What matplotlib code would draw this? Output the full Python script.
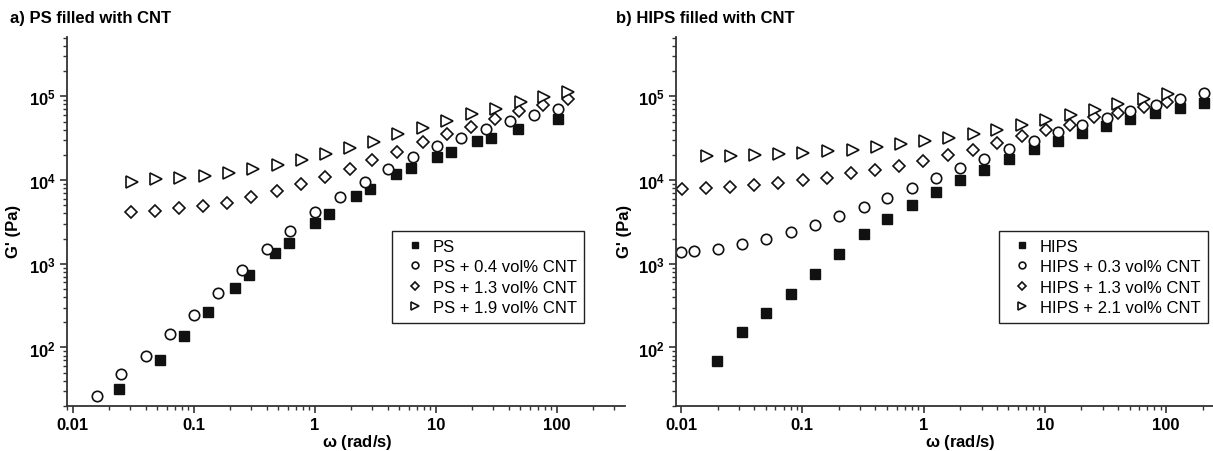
import matplotlib
matplotlib.use("Agg")
import matplotlib.pyplot as plt
from matplotlib.ticker import LogLocator, FuncFormatter, NullFormatter

plt.rcParams['font.family'] = ['Liberation Sans', 'DejaVu Sans']
plt.rcParams['mathtext.fontset'] = 'custom'
plt.rcParams['mathtext.rm'] = 'Liberation Sans'
plt.rcParams['mathtext.bf'] = 'Liberation Sans:bold'

# ---- panel a: PS ----
ps_w = [0.0241, 0.0527, 0.083, 0.132, 0.219, 0.284, 0.473, 0.61, 1.0, 1.32,
        2.19, 2.86, 4.7, 6.2, 10.2, 13.3, 22, 28.6, 47.9, 101.7]
ps_g = [31.6, 71.4, 138, 263, 513, 733, 1340, 1795, 3100, 3940,
        6400, 7820, 11800, 13800, 19100, 21700, 29100, 31900, 40400, 53200]

ps04_w = [0.0158, 0.0252, 0.040, 0.0636, 0.1006, 0.159, 0.253, 0.40, 0.63, 1.0,
          1.62, 2.6, 4.04, 6.45, 10.2, 16.2, 25.9, 41, 65, 101.7]
ps04_g = [26.3, 48.7, 80, 146, 247, 452, 849, 1500, 2490, 4120,
          6300, 9400, 13500, 18800, 25200, 32200, 41200, 50300, 59800, 71300]

ps13_w = [0.0301, 0.0479, 0.0759, 0.120, 0.190, 0.30, 0.487, 0.77, 1.21, 1.94,
          3.0, 4.79, 7.86, 12.4, 19.4, 30.8, 48.7, 77, 123]
ps13_g = [4120, 4300, 4600, 4860, 5330, 6220, 7460, 8960, 10900, 13500,
          17400, 21400, 28600, 35300, 43200, 54300, 66900, 78800, 92000]

ps19_w = [0.0307, 0.0488, 0.0774, 0.123, 0.196, 0.31, 0.494, 0.78, 1.24, 1.96,
          3.1, 4.9, 7.9, 12.5, 19.8, 31.5, 50.5, 78.1, 123]
ps19_g = [9400, 10200, 10600, 11100, 12200, 13500, 15200, 17400, 20400, 24500,
          28600, 35300, 41600, 50800, 61100, 71300, 85500, 99000, 114000]

# ---- panel b: HIPS ----
hips_w = [0.0199, 0.0318, 0.0506, 0.0799, 0.127, 0.201, 0.32, 0.50, 0.80, 1.27,
          2.0, 3.17, 5.06, 8.05, 12.9, 20.3, 32, 50.7, 80.5, 129, 203]
hips_g = [68.8, 155, 255, 437, 755, 1315, 2270, 3420, 5050, 7280,
          9930, 13300, 18100, 23500, 29600, 36500, 44500, 53500, 64100, 73500, 84100]

hips03_w = [0.01, 0.0128, 0.0201, 0.0318, 0.0506, 0.0803, 0.127, 0.201, 0.32, 0.50,
            0.80, 1.27, 2.0, 3.17, 5.06, 8.05, 12.9, 20.3, 32.3, 50.7, 81.6, 129, 203]
hips03_g = [1380, 1415, 1510, 1730, 2000, 2380, 2900, 3680, 4710, 6190,
            8130, 10600, 13900, 17900, 23500, 29600, 37100, 45800, 55000, 67100,
            79100, 92400, 111000]

hips13_w = [0.0101, 0.016, 0.0254, 0.04, 0.0635, 0.101, 0.159, 0.253, 0.40, 0.63,
            0.99, 1.6, 2.54, 4.0, 6.47, 10.2, 16.1, 25.5, 40.3, 65.9, 101]
hips13_g = [7910, 7970, 8270, 8650, 9300, 9910, 10700, 12000, 13200, 14900,
            17100, 20000, 23100, 27800, 33300, 39200, 45800, 56500, 64100, 75500, 86500]

hips21_w = [0.0163, 0.0257, 0.0407, 0.0643, 0.102, 0.164, 0.26, 0.41, 0.65, 1.03,
            1.63, 2.62, 4.06, 6.47, 10.2, 16.3, 25.8, 40.3, 65.9, 104]
hips21_g = [19300, 19300, 20200, 20700, 21100, 22100, 23100, 24600, 27000, 29100,
            31800, 35500, 39900, 44900, 51500, 60100, 69000, 80500, 92400, 106000]

labels_a = ['PS', 'PS + 0.4 vol% CNT', 'PS + 1.3 vol% CNT', 'PS + 1.9 vol% CNT']
labels_b = ['HIPS', 'HIPS + 0.3 vol% CNT', 'HIPS + 1.3 vol% CNT', 'HIPS + 2.1 vol% CNT']
xtick_vals = [0.01, 0.1, 1, 10, 100]
xtick_labels = ['0.01', '0.1', '1', '10', '100']

styles = [dict(marker='s', mfc='#111111', mec='#111111', ms=7),
          dict(marker='o', mfc='white', mec='#111111', ms=7.5, mew=1.2),
          dict(marker='D', mfc='white', mec='#111111', ms=6.5, mew=1.2),
          dict(marker='>', mfc='white', mec='#111111', ms=8, mew=1.2)]

fig = plt.figure(figsize=(12.13, 4.52), dpi=100)
ax1 = fig.add_axes([0.0552, 0.0996, 0.460, 0.816])
ax2 = fig.add_axes([0.5573, 0.0996, 0.4427, 0.816])


def yfmt(v, pos):
    import math
    e = int(round(math.log10(v)))
    return r'$\mathbf{10^{%d}}$' % e


def setup(ax, xlim, labels, series, leg_anchor, xl_x):
    for (w, g), lab, st in zip(series, labels, styles):
        ax.plot(w, g, ls='none', label=lab, **st)
    ax.set_xscale('log')
    ax.set_yscale('log')
    ax.set_xlim(*xlim)
    ax.set_ylim(20, 5.1e5)
    for s in ['top', 'right']:
        ax.spines[s].set_visible(False)
    for s in ['left', 'bottom']:
        ax.spines[s].set_linewidth(1.3)
        ax.spines[s].set_color('#333333')
    ax.set_xticks(xtick_vals)
    ax.set_xticklabels(xtick_labels, fontweight='bold', fontsize=12)
    ax.xaxis.set_minor_locator(LogLocator(base=10, subs=range(2, 10), numticks=20))
    ax.xaxis.set_minor_formatter(NullFormatter())
    ax.set_yticks([1e2, 1e3, 1e4, 1e5])
    ax.yaxis.set_major_formatter(FuncFormatter(yfmt))
    ax.yaxis.set_minor_locator(LogLocator(base=10, subs=range(2, 10), numticks=20))
    ax.yaxis.set_minor_formatter(NullFormatter())
    ax.tick_params(which='major', direction='out', length=5, width=1.2,
                   color='#333333', labelsize=12, pad=3)
    ax.tick_params(which='minor', direction='out', length=3, width=1.0,
                   color='#333333')
    ax.set_xlabel(r'$\mathbf{\omega}$ (rad/s)', fontweight='bold', fontsize=12)
    ax.xaxis.set_label_coords(xl_x, -0.07)
    ax.set_ylabel("G' (Pa)", fontweight='bold', fontsize=12)
    ax.yaxis.set_label_coords(-0.082, 0.477)
    leg = ax.legend(loc='upper left', bbox_to_anchor=leg_anchor, borderaxespad=0,
                    fancybox=False, framealpha=1, edgecolor='#222222',
                    fontsize=12, markerscale=0.65, labelspacing=0.33,
                    handletextpad=0.1, borderpad=0.45, handlelength=1.9)
    leg.get_frame().set_linewidth(1.0)


setup(ax1, (0.00897, 366), labels_a,
      [(ps_w, ps_g), (ps04_w, ps04_g), (ps13_w, ps13_g), (ps19_w, ps19_g)],
      (0.582, 0.474), 0.521)
setup(ax2, (0.00909, 243), labels_b,
      [(hips_w, hips_g), (hips03_w, hips03_g), (hips13_w, hips13_g), (hips21_w, hips21_g)],
      (0.601, 0.474), 0.529)

fig.text(10 / 1213, 1 - 18 / 452, 'a) PS filled with CNT', fontweight='bold',
         fontsize=12, va='center', ha='left')
fig.text(616 / 1213, 1 - 18 / 452, 'b) HIPS filled with CNT', fontweight='bold',
         fontsize=12, va='center', ha='left')

fig.savefig('out.png', dpi=100)
